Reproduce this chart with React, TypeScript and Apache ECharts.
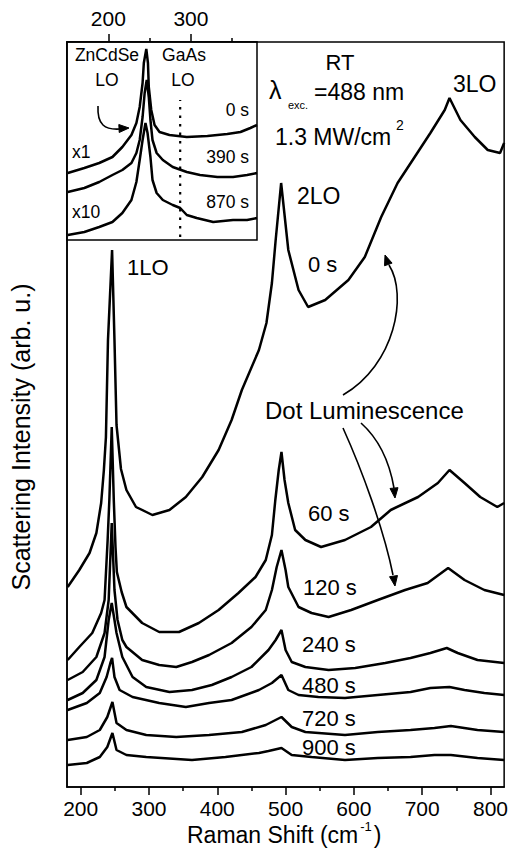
import React, { useEffect, useRef } from "react";
import * as echarts from "echarts";

const FONT = "'Liberation Sans', Arial, Helvetica, sans-serif";

// ---------- main panel: Raman shift (cm-1) vs offset scattering intensity (arb. u.) ----------
const spectrum0s: [number, number][] = [
  [181, 200], [198, 217], [213, 234], [223, 254], [230, 284], [234, 317], [237, 350], [240, 447],
  [246, 537], [249.5, 447], [252.5, 362], [259, 318], [267, 297], [281, 280], [305, 272], [330, 277],
  [354, 290], [378, 310], [402, 337], [421, 367], [436, 397], [461, 437], [472, 464], [480, 504],
  [485.5, 547], [493.5, 604], [504, 537], [519, 497], [533, 480], [558, 487], [592, 507], [616, 530],
  [640, 570], [664, 604], [689, 630], [712, 654], [733, 677], [740, 689], [756, 667], [777, 650],
  [796, 637], [814, 634], [820, 644],
];
const spectrum60s: [number, number][] = [
  [181, 127], [198, 140], [217, 154], [230, 174], [235, 187], [239.5, 247], [242, 287], [245.5, 360],
  [248.5, 287], [251, 240], [253, 215], [260, 195], [267, 180], [290, 164], [315, 155], [344, 155],
  [373, 164], [402, 177], [431, 194], [456, 210], [471, 227], [480, 252], [485, 287], [490, 317],
  [494, 335], [498.5, 307], [504, 284], [514, 257], [529, 247], [552, 240], [587, 247], [625, 260],
  [654, 277], [694, 290], [723, 304], [740, 317], [762, 304], [785, 290], [810, 280], [820, 284],
];
const spectrum120s: [number, number][] = [
  [181, 107], [203, 115], [223, 130], [235, 154], [241, 187], [245.5, 264], [249.5, 197], [254, 167],
  [261, 147], [267, 140], [290, 127], [315, 122], [340, 120], [363, 125], [388, 132], [421, 144],
  [450, 160], [471, 177], [480, 197], [487, 220], [494, 237], [500, 217], [504, 200], [519, 180],
  [538, 174], [563, 170], [596, 177], [635, 187], [675, 197], [708, 204], [738, 219], [762, 207],
  [791, 197], [820, 192],
];
const spectrum240s: [number, number][] = [
  [181, 87], [203, 94], [223, 107], [235, 130], [241, 167], [245.5, 184], [249.5, 167], [252.5, 154],
  [261, 130], [276, 110], [296, 100], [330, 95], [363, 97], [392, 102], [421, 110], [450, 120],
  [475, 137], [485.5, 147], [494, 157], [500, 137], [509, 125], [529, 120], [563, 117], [602, 119],
  [646, 124], [683, 129], [712, 134], [736, 139], [752, 134], [781, 127], [820, 124],
];
const spectrum480s: [number, number][] = [
  [181, 77], [209, 84], [228, 94], [238, 110], [243.5, 124], [246, 129], [249.5, 110], [257, 97],
  [276, 90], [315, 84], [354, 80], [388, 84], [421, 87], [461, 97], [480, 104], [494, 112],
  [504, 97], [519, 92], [548, 90], [587, 89], [635, 92], [683, 95], [712, 99], [740, 100],
  [762, 97], [791, 94], [820, 92],
];
const spectrum720s: [number, number][] = [
  [181, 47], [209, 50], [228, 57], [239, 70], [246.5, 85], [252.5, 64], [267, 57], [296, 52],
  [340, 50], [388, 52], [436, 55], [471, 62], [494, 70], [509, 60], [529, 55], [587, 52],
  [635, 55], [683, 57], [718, 59], [742, 61], [781, 57], [820, 55],
];
const spectrum900s: [number, number][] = [
  [181, 22], [209, 24], [228, 30], [239, 40], [246.5, 54], [252.5, 37], [267, 32], [296, 30],
  [363, 27], [412, 30], [461, 34], [475, 36], [494, 39], [509, 32], [538, 30], [587, 27],
  [635, 29], [683, 30], [718, 32], [742, 32], [781, 29], [820, 27],
];

const mainXTicks = [200, 300, 400, 500, 600, 700, 800];
const mainXMinorTicks = [250, 350, 450, 550, 650, 750];

// ---------- inset: ZnCdSe LO region ----------
const insetShift = [151, 171, 189, 205, 217, 228, 234, 238, 241.5, 243, 246, 248, 249, 252, 256, 262, 274, 295, 320, 344, 360, 372, 380];
const inset0s = [67, 72, 77, 83, 93, 105, 117, 133, 157, 177, 191, 177, 153, 130, 115, 108, 105, 103, 104, 106, 108, 112, 115];
const insetShift390 = [151, 171, 189, 205, 217, 228, 234, 238, 241.5, 244, 246.5, 249, 251, 253.5, 258.5, 266, 278, 295, 311, 332, 351, 368, 380];
const inset390s = [48, 52, 58, 65, 70, 77, 87, 100, 123, 147, 160, 143, 120, 100, 87, 80, 73, 68, 65, 63, 63, 65, 67];
const insetShift870 = [151, 171, 189, 205, 217, 228, 234, 238, 241.5, 245, 247.5, 251, 253.5, 258.5, 266, 278, 287, 295, 307, 327, 351, 368, 380];
const inset870s = [5, 8, 13, 18, 27, 40, 58, 80, 100, 117, 107, 83, 60, 47, 40, 35, 32, 25, 22, 18, 20, 20, 22];
const gaAsLOShift = 287;
const gaAsLORange = [3, 140];
const insetXTicks = [200, 300];
const insetXMinorTicks = [250, 350];

const zip = (xs: number[], ys: number[]) => xs.map((x, i) => [x, ys[i]]);

function txt(text: string, x: number, y: number, size: number, align = "left", extra: any = {}, rich?: any) {
  return {
    type: "text",
    x,
    y,
    z: 100,
    ...extra,
    style: {
      text,
      fontSize: size,
      fontFamily: FONT,
      fill: "#000",
      textAlign: align,
      textVerticalAlign: "middle",
      align,
      verticalAlign: "middle",
      ...(rich ? { rich } : {}),
    },
  };
}

function arrowHead(tx: number, ty: number, dx: number, dy: number, len = 10, half = 4) {
  const l = Math.hypot(dx, dy);
  const ux = dx / l, uy = dy / l;
  const bx = tx - ux * len, by = ty - uy * len;
  const nx = -uy, ny = ux;
  return {
    type: "polygon",
    z: 100,
    shape: { points: [[tx, ty], [bx + nx * half, by + ny * half], [bx - nx * half, by - ny * half]] },
    style: { fill: "#000", stroke: "#000", lineWidth: 1 },
  };
}

function curve(x1: number, y1: number, cpx1: number, cpy1: number, cpx2: number, cpy2: number, x2: number, y2: number) {
  return {
    type: "bezierCurve",
    z: 100,
    shape: { x1, y1, cpx1, cpy1, cpx2, cpy2, x2, y2 },
    style: { stroke: "#000", lineWidth: 1.6, fill: "none" },
  };
}

const lineSeries = (data: any[], xAxisIndex: number, yAxisIndex: number, extra: any = {}) => ({
  type: "line",
  data,
  xAxisIndex,
  yAxisIndex,
  symbol: "none",
  showSymbol: false,
  silent: true,
  lineStyle: { color: "#000", width: 2.5 },
  z: 3,
  ...extra,
});

export default function App() {
  const ref = useRef<HTMLDivElement>(null);
  useEffect(() => {
    if (!ref.current) return;
    const chart = echarts.init(ref.current, undefined, { renderer: "svg" });
    const axisLineStyle = { color: "#000", width: 1.5 };
    const option: any = {
      animation: false,
      backgroundColor: "#fff",
      textStyle: { fontFamily: FONT },
      grid: [
        { left: 67, top: 42, right: 5, bottom: 67, show: true, borderColor: "#000", borderWidth: 1.5, backgroundColor: "transparent" },
        { left: 67, top: 42, width: 190, height: 198, show: true, borderColor: "#000", borderWidth: 1.5, backgroundColor: "#fff" },
      ],
      xAxis: [
        {
          gridIndex: 0, type: "value", position: "bottom", min: 180, max: 820,
          axisLine: { show: true, onZero: false, lineStyle: axisLineStyle },
          axisTick: { show: true, inside: false, length: 8, customValues: mainXTicks, lineStyle: axisLineStyle },
          axisLabel: { show: true, customValues: mainXTicks, fontSize: 21, color: "#000", fontFamily: FONT, margin: 11 },
          splitLine: { show: false },
        },
        {
          gridIndex: 0, type: "value", position: "bottom", min: 180, max: 820,
          axisLine: { show: false, onZero: false },
          axisTick: { show: true, inside: false, length: 4, customValues: mainXMinorTicks, lineStyle: axisLineStyle },
          axisLabel: { show: false },
          splitLine: { show: false },
        },
        {
          gridIndex: 1, type: "value", position: "top", min: 150, max: 380,
          axisLine: { show: true, onZero: false, lineStyle: axisLineStyle },
          axisTick: { show: true, inside: false, length: 8, customValues: insetXTicks, lineStyle: axisLineStyle },
          axisLabel: { show: true, customValues: insetXTicks, fontSize: 21, color: "#000", fontFamily: FONT, margin: 13 },
          splitLine: { show: false },
        },
        {
          gridIndex: 1, type: "value", position: "top", min: 150, max: 380,
          axisLine: { show: false, onZero: false },
          axisTick: { show: true, inside: false, length: 4, customValues: insetXMinorTicks, lineStyle: axisLineStyle },
          axisLabel: { show: false },
          splitLine: { show: false },
        },
      ],
      yAxis: [
        {
          gridIndex: 0, type: "value", min: 0, max: 745,
          axisLine: { show: true, onZero: false, lineStyle: axisLineStyle },
          axisTick: { show: false }, axisLabel: { show: false }, splitLine: { show: false },
        },
        {
          gridIndex: 1, type: "value", min: 0, max: 198,
          axisLine: { show: false, onZero: false }, axisTick: { show: false }, axisLabel: { show: false }, splitLine: { show: false },
        },
      ],
      series: [
        lineSeries(spectrum0s, 0, 0),
        lineSeries(spectrum60s, 0, 0),
        lineSeries(spectrum120s, 0, 0),
        lineSeries(spectrum240s, 0, 0),
        lineSeries(spectrum480s, 0, 0),
        lineSeries(spectrum720s, 0, 0),
        lineSeries(spectrum900s, 0, 0),
        lineSeries(zip(insetShift, inset0s), 2, 1, { z: 10 }),
        lineSeries(zip(insetShift390, inset390s), 2, 1, { z: 10 }),
        lineSeries(zip(insetShift870, inset870s), 2, 1, { z: 10 }),
        lineSeries([[gaAsLOShift, gaAsLORange[0]], [gaAsLOShift, gaAsLORange[1]]], 2, 1, {
          z: 10,
          lineStyle: { color: "#000", width: 2.2, type: [2.5, 6] },
        }),
      ],
      graphic: [
        // axis titles
        txt("Scattering Intensity (arb. u.)", 21, 437, 25, "center", { rotation: Math.PI / 2 }),
        txt("{a|Raman Shift (cm}{s|-1}{a|)}", 187, 833, 23, "left", {}, {
          a: { fontSize: 23, fontFamily: FONT, fill: "#000", verticalAlign: "bottom" },
          s: { fontSize: 13, fontFamily: FONT, fill: "#000", verticalAlign: "bottom", padding: [0, 2, 13, 2] },
        }),
        // main annotations
        txt("RT", 340, 62, 22, "center"),
        txt("λ", 269, 90, 25, "left"),
        txt("exc.", 288, 105, 11, "left"),
        txt("=488 nm", 314, 92, 23, "left"),
        txt("1.3 MW/cm", 275, 137, 23, "left"),
        txt("2", 396, 125, 14, "left"),
        txt("3LO", 453, 84, 23, "left"),
        txt("2LO", 297, 196, 23, "left"),
        txt("1LO", 127, 267, 22, "left"),
        txt("0 s", 308, 264, 22, "left"),
        txt("Dot Luminescence", 265, 410, 24, "left"),
        txt("60 s", 308, 513, 22, "left"),
        txt("120 s", 303, 587, 22, "left"),
        txt("240 s", 302, 644, 22, "left"),
        txt("480 s", 302, 685, 22, "left"),
        txt("720 s", 302, 718, 22, "left"),
        txt("900 s", 302, 747, 22, "left"),
        // inset annotations
        txt("ZnCdSe", 107, 55, 17.5, "center"),
        txt("LO", 107, 80, 17.5, "center"),
        txt("GaAs", 184, 55, 17.5, "center"),
        txt("LO", 183, 80, 17.5, "center"),
        txt("0 s", 249, 110, 17.5, "right"),
        txt("390 s", 249, 157, 17.5, "right"),
        txt("870 s", 249, 202, 17.5, "right"),
        txt("x1", 72, 152, 17.5, "left"),
        txt("x10", 72, 212, 17.5, "left"),
        // arrows
        curve(98, 106, 97, 125, 105, 130, 120, 129),
        arrowHead(129, 128, 1, -0.05),
        curve(343, 395, 395, 365, 408, 295, 389, 265),
        arrowHead(385, 255, -0.35, -1),
        curve(361, 423, 380, 440, 390, 465, 394, 488),
        arrowHead(395, 498, 0.1, 1),
        curve(343, 428, 362, 470, 384, 530, 393, 575),
        arrowHead(395, 586, 0.15, 1),
      ],
    };
    chart.setOption(option);
    return () => chart.dispose();
  }, []);
  return (
    <div
      ref={ref}
      style={{ position: "fixed", left: 0, top: 0, width: 511, height: 854, background: "#fff" }}
    />
  );
}
